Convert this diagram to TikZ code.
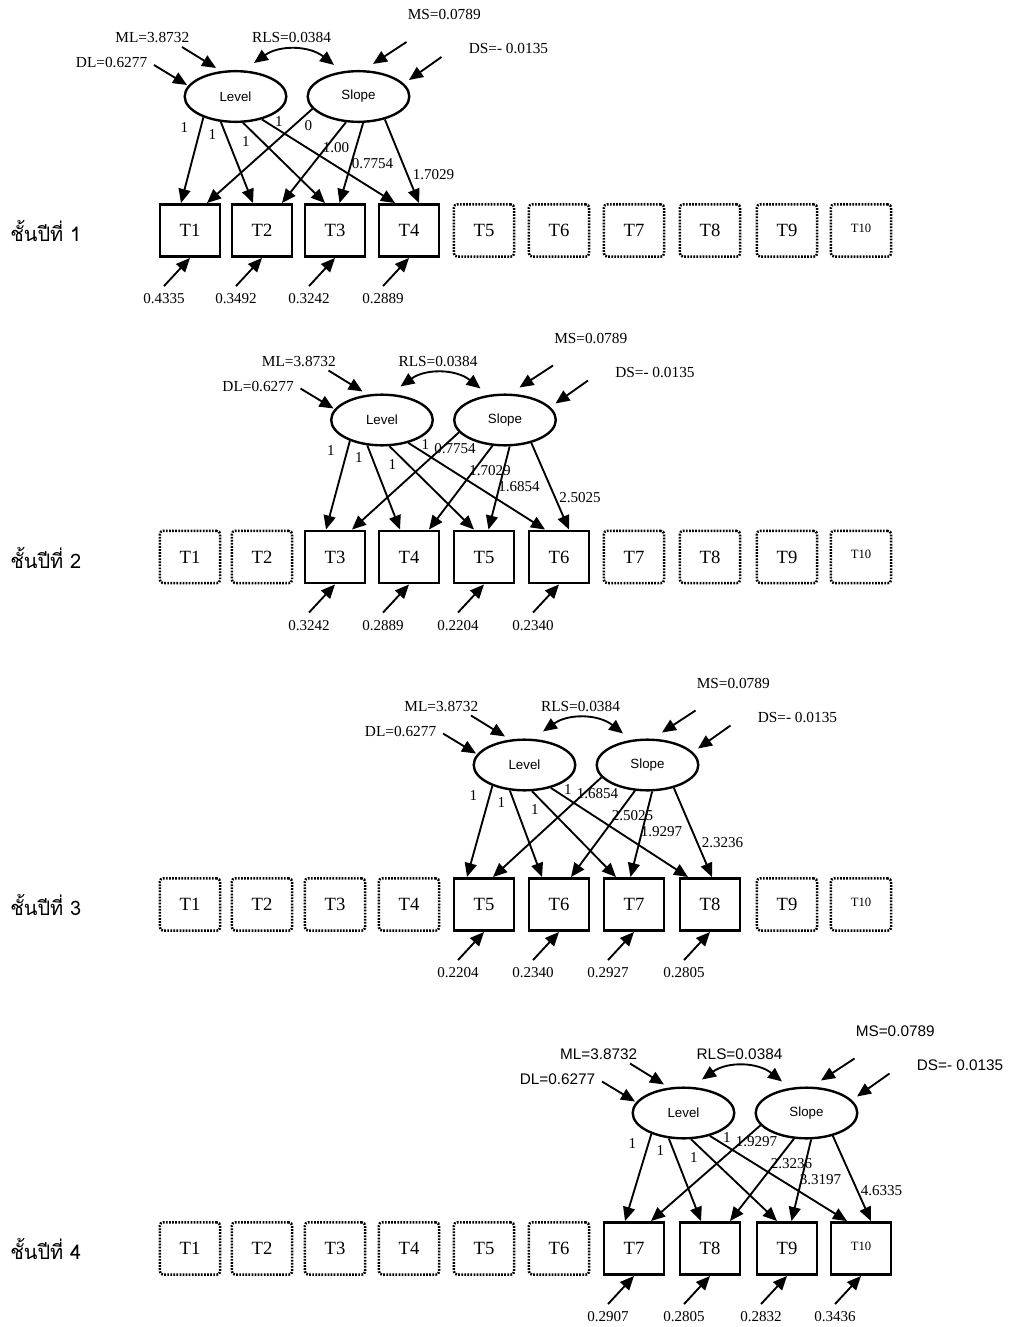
\documentclass[tikz,border=0pt]{standalone}
\usepackage{fontspec}
\setmainfont{Liberation Serif}
\setsansfont{Liberation Sans}
\newfontfamily\thaifont[Script=Thai]{Loma}
\usetikzlibrary{calc,shapes.geometric,arrows.meta}

\newcommand\boxlab[1]{\ifnum#1<10 T#1\else\raisebox{4pt}{\fontsize{9.5}{11}\selectfont T#1}\fi}

\tikzset{
  obs/.style={draw, line width=2pt, minimum width=45.2pt, minimum height=39.2pt, inner sep=0pt, font=\fontsize{14}{16}\selectfont},
  ghost/.style={obs, line width=1.9pt, dash pattern=on 1.3pt off 1pt, rounded corners=2.5pt},
  latent/.style={draw, ellipse, line width=1.8pt, minimum width=76.2pt, minimum height=38pt, inner sep=0pt, font=\sffamily\fontsize{10}{12}\selectfont},
  arr/.style={line width=1.4pt, -{Triangle[length=10.5pt,width=9pt]}},
  both/.style={line width=1.4pt, {Triangle[length=10.5pt,width=9pt]}-{Triangle[length=10.5pt,width=9pt]}},
  num/.style={inner sep=0pt, font=\fontsize{11.3}{13}\selectfont},
  toplab/.style={inner sep=0pt, font=\topfont\fontsize{11.5}{13}\selectfont},
  year/.style={anchor=base west, inner sep=0pt, font=\thaifont\fontsize{15}{18}\selectfont}
}

\begin{document}
\begin{tikzpicture}[x=0.75pt,y=-0.75pt]
\useasboundingbox (0,0) rectangle (1012,1327);
\foreach \p/\by/\lx/\ly/\first/\tipx/\topfont/\sload/\resid in {
  1/230.5/235.5/96.5/1/0/\rmfamily/{0,1.00,0.7754,1.7029}/{0.4335,0.3492,0.3242,0.2889},
  2/557/382/420/3/0/\rmfamily/{0.7754,1.7029,1.6854,2.5025}/{0.3242,0.2889,0.2204,0.2340},
  3/904.5/524.5/765/5/-8/\rmfamily/{1.6854,2.5025,1.9297,2.3236}/{0.2204,0.2340,0.2927,0.2805},
  4/1248.5/683.5/1113/7/0/\sffamily/{1.9297,2.3236,3.3197,4.6335}/{0.2907,0.2805,0.2832,0.3436}}{
  \node[year] (g\p-yr) at (10,\by+11) {ชั้นปีที่ \p};
  \foreach \x [count=\i] in {190,262,335,409,484,559,634,710,787,861}{
    \pgfmathtruncatemacro\act{and(\i>\first-1,\i<\first+4)}
    \ifnum\act=1
      \node[obs] (g\p-T\i) at (\x,\by) {\boxlab{\i}};
    \else
      \node[ghost] (g\p-T\i) at (\x,\by) {\boxlab{\i}};
    \fi
  }
  \node[latent] (g\p-L) at (\lx,\ly) {Level};
  \node[latent] (g\p-S) at (\lx+123,\ly) {Slope};
  \node[toplab, anchor=east] (g\p-ML) at ($(g\p-L)+(-46,-58.5)$) {ML=3.8732};
  \node[toplab, anchor=east] (g\p-DL) at ($(g\p-L)+(-88,-33.5)$) {DL=0.6277};
  \node[toplab] (g\p-RLS) at ($(g\p-L)+(56,-58.5)$) {RLS=0.0384};
  \node[toplab, anchor=west] (g\p-MS) at ($(g\p-S)+(49,-81.5)$) {MS=0.0789};
  \node[toplab, anchor=west] (g\p-DS) at ($(g\p-S)+(110,-47.5)$) {DS=- 0.0135};
  \draw[arr] ($(g\p-ML.east)+(-7.5,9)$) -- ($(g\p-L.north)+(-19.5,-2)$);
  \draw[arr] ($(g\p-DL.east)+(6.5,2)$) -- ($(g\p-L.west)+(3.5,-11.5)$);
  \draw[both] ($(g\p-L.north)+(18.5,-7)$) to[bend left=37] ($(g\p-S.north)+(-24.5,-5)$);
  \draw[arr] ($(g\p-MS.west)+(-1,27)$) -- ($(g\p-S.north)+(14.5,-6)$);
  \draw[arr] ($(g\p-DS.west)+(-27,8)$) -- ($(g\p-S.east)+(-1.5,-16.5)$);
  \foreach \k/\la/\sa/\ldx/\sdx in {0/213/195/-9/17,1/240/244/-9/20,2/286/280/-10/4.5,3/319/319/-14/10}{
    \pgfmathtruncatemacro\j{\first+\k}
    \draw[arr] (g\p-L.\la) -- ($(g\p-T\j.north)+(\ldx,0)+(\tipx,0)$);
    \draw[arr] (g\p-S.\sa) -- ($(g\p-T\j.north)+(\sdx,0)+(\tipx,0)$);
  }
  \foreach \dx/\dy [count=\k] in {-51/31,-23/38,10.5/45,43.5/25}
    \node[num] (g\p-ll\k) at ($(g\p-L)+(\dx,\dy)$) {1};
  \foreach \val [count=\k] in \sload {
    \pgfmathsetmacro\dx{{-50,-36,14,75}[\k-1]}
    \pgfmathsetmacro\dy{{29,51,67,78}[\k-1]}
    \ifnum\k=2 \def\an{west}\else\def\an{center}\fi
    \node[num, anchor=\an] (g\p-sl\k) at ($(g\p-S)+(\dx,\dy)$) {\val};
  }
  \foreach \val [count=\k] in \resid {
    \pgfmathtruncatemacro\j{\first+\k-1}
    \node[num] (g\p-e\j) at ($(g\p-T\j.south)+(-26,41)$) {\val};
    \draw[arr] ($(g\p-e\j.north)+(0,-7.5)$) -- (g\p-T\j.south);
  }
}
\end{tikzpicture}
\end{document}
